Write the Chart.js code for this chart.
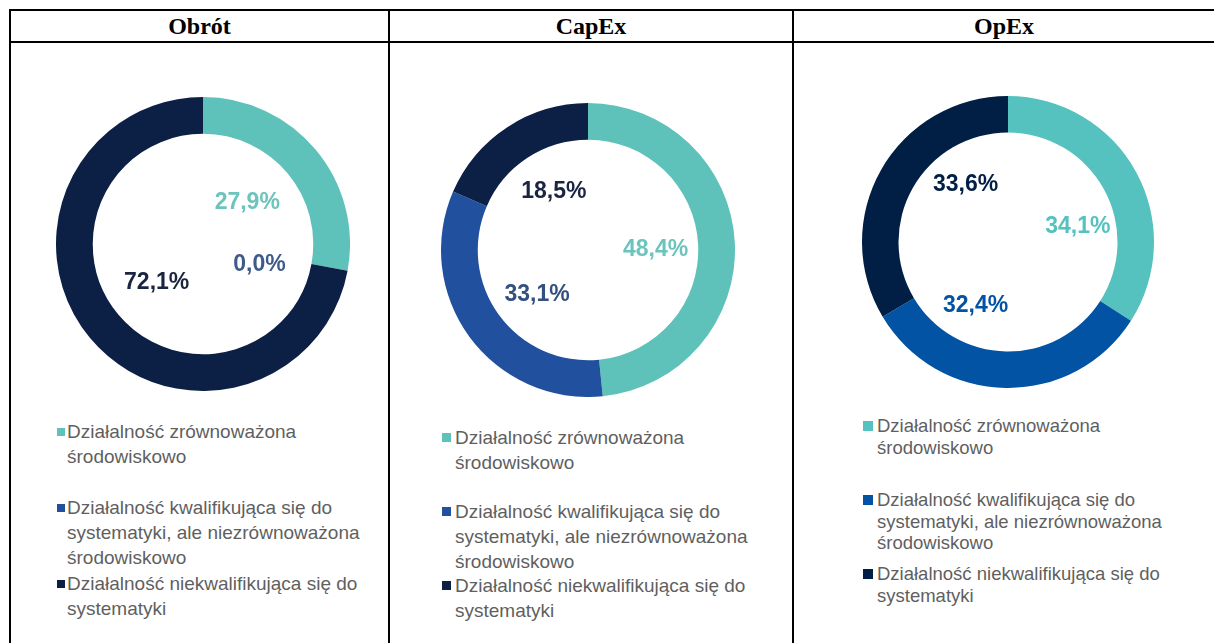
<!DOCTYPE html>
<html lang="pl">
<head>
<meta charset="utf-8">
<script src="https://cdn.jsdelivr.net/npm/chart.js@4.4.1/dist/chart.umd.min.js"></script>
<style>
    html, body { margin: 0; padding: 0; background: #fff; }
    body { width: 1214px; height: 643px; position: relative; overflow: hidden; }
    .linia { position: absolute; background: #000; }
    .tytul { position: absolute; top: 11px; height: 31px; line-height: 31px; text-align: center;
             font-family: "Liberation Serif", "Times New Roman", serif; font-weight: bold; font-size: 24px; color: #000; }
    canvas { position: absolute; }
    .legenda { position: absolute; font-family: "Liberation Sans", Arial, sans-serif; color: #5f5f5f; }
    .pozycja { position: relative; }
    .kwadrat { position: absolute; left: 0; }
</style>
</head>
<body>

<div class="linia" style="left:9px; top:9px; width:1205px; height:2px;"></div>
<div class="linia" style="left:9px; top:41px; width:1205px; height:2px;"></div>
<div class="linia" style="left:9px; top:9px; width:2px; height:634px;"></div>
<div class="linia" style="left:388px; top:9px; width:2px; height:634px;"></div>
<div class="linia" style="left:792px; top:9px; width:2px; height:634px;"></div>

<div class="tytul" style="left:11px; width:377px;" id="t0"></div>
<div class="tytul" style="left:390px; width:402px;" id="t1"></div>
<div class="tytul" style="left:794px; width:420px;" id="t2"></div>

<canvas id="wykresObrot" width="294" height="294" style="left:56px; top:97px;"></canvas>
<canvas id="wykresCapex" width="294" height="294" style="left:441px; top:103px;"></canvas>
<canvas id="wykresOpex" width="292" height="292" style="left:862px; top:96px;"></canvas>

<div class="legenda" id="legObrot"></div>
<div class="legenda" id="legCapex"></div>
<div class="legenda" id="legOpex"></div>

<script>
// dane
const tytuly = ['Obrót', 'CapEx', 'OpEx']
const kategorie = [
    'Działalność zrównoważona środowiskowo',
    'Działalność kwalifikująca się do systematyki, ale niezrównoważona środowiskowo',
    'Działalność niekwalifikująca się do systematyki'
]
const obrot = [27.9, 0.0, 72.1]
const capex = [48.4, 33.1, 18.5]
const opex = [34.1, 32.4, 33.6]

// kolory (skany dwóch pierwszych wykresów są trochę wyblakłe)
const kolorySkan = ['#5ec2bb', '#21509e', '#0c1f45']
const koloryOpex = ['#56c2bf', '#0353a4', '#011f45']

tytuly.forEach((t, i) => document.getElementById('t' + i).textContent = t)

// etykiety procentowe w środku pierścienia
const etykietyPlugin = {
    id: 'etykiety',
    afterDatasetsDraw(chart, args, opts) {
        const ctx = chart.ctx
        const meta = chart.getDatasetMeta(0)
        const dane = chart.data.datasets[0].data
        ctx.save()
        ctx.font = 'bold ' + opts.rozmiar + 'px "Liberation Sans", Arial, sans-serif'
        ctx.textAlign = 'center'
        ctx.textBaseline = 'middle'
        meta.data.forEach((arc, i) => {
            const kat = (arc.startAngle + arc.endAngle) / 2 + opts.przesuniecie[i] * Math.PI / 180
            const r = arc.outerRadius * opts.promien
            const x = arc.x + Math.cos(kat) * r
            const y = arc.y + Math.sin(kat) * r
            ctx.fillStyle = opts.kolory[i]
            ctx.fillText(dane[i].toFixed(1).replace('.', ',') + '%', x, y)
        })
        ctx.restore()
    }
}

function rysujPierscien(id, wartosci, kolory, etykiety) {
    const ctx = document.getElementById(id).getContext('2d')
    return new Chart(ctx, {
        type: 'doughnut',
        data: {
            labels: kategorie,
            datasets: [{
                data: wartosci,
                backgroundColor: kolory,
                borderWidth: 0
            }]
        },
        options: {
            responsive: false,
            animation: false,
            cutout: '75%',
            events: [],
            plugins: {
                legend: { display: false },
                tooltip: { enabled: false },
                etykiety: etykiety
            }
        },
        plugins: [etykietyPlugin]
    })
}

rysujPierscien('wykresObrot', obrot, kolorySkan, {
    rozmiar: 23, promien: 0.41, przesuniecie: [-3, 10, 0],
    kolory: ['#6cc4bd', '#3e5b8a', '#1b2440']
})
rysujPierscien('wykresCapex', capex, kolorySkan, {
    rozmiar: 23, promien: 0.46, przesuniecie: [3, -5, 3],
    kolory: ['#6cc4bd', '#33507f', '#1b2440']
})
rysujPierscien('wykresOpex', opex, koloryOpex, {
    rozmiar: 23, promien: 0.49, przesuniecie: [16, 26, 24],
    kolory: koloryOpex
})

// legendy HTML pod wykresami
function rysujLegende(id, kolory, styl) {
    const el = document.getElementById(id)
    el.style.left = styl.left + 'px'
    el.style.top = styl.top + 'px'
    el.style.fontSize = styl.font + 'px'
    el.style.lineHeight = styl.linia + 'px'
    kategorie.forEach((tekst, i) => {
        const poz = document.createElement('div')
        poz.className = 'pozycja'
        poz.style.height = styl.wysokosc + 'px'
        poz.style.paddingLeft = styl.wciecie + 'px'
        poz.style.width = styl.szer + 'px'
        const kw = document.createElement('div')
        kw.className = 'kwadrat'
        kw.style.width = styl.kw + 'px'
        kw.style.height = styl.kw + 'px'
        kw.style.top = ((styl.linia - styl.kw) / 2) + 'px'
        kw.style.background = kolory[i]
        poz.appendChild(kw)
        poz.appendChild(document.createTextNode(tekst))
        el.appendChild(poz)
    })
}

rysujLegende('legObrot', kolorySkan, { left: 57, top: 419, font: 19, linia: 25, wysokosc: 76, wciecie: 10, szer: 300, kw: 8 })
rysujLegende('legCapex', kolorySkan, { left: 442, top: 425, font: 19, linia: 25, wysokosc: 74, wciecie: 13, szer: 300, kw: 9 })
rysujLegende('legOpex', koloryOpex, { left: 863, top: 415, font: 18.5, linia: 21.5, wysokosc: 74, wciecie: 14, szer: 300, kw: 10 })
</script>
</body>
</html>
